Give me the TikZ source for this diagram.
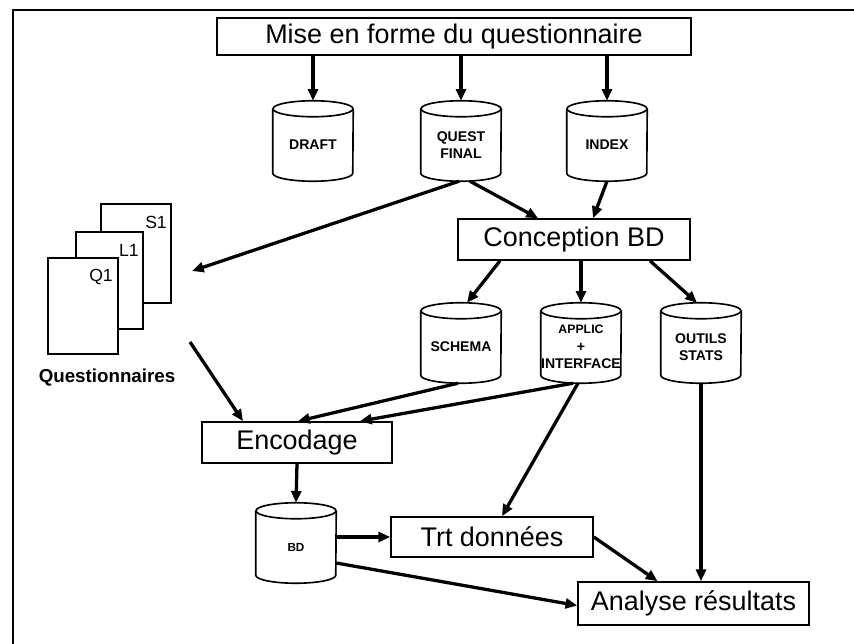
\documentclass[tikz,border=0pt]{standalone}
\usepackage{fontspec}
\setmainfont{Liberation Sans}
\usetikzlibrary{arrows.meta,calc}
\newcommand\dbcyl[4]{%
  \node[cyl] (#1) at (#2,#3) {};
  \node[cyltext] (#1-t) at ($(#1.center)+(0,4)$) {#4};
  \draw[line width=1.4pt] ($(#1.north)+(0,8)$) ellipse [x radius=1.2cm, y radius=0.24cm];
  \draw[line width=1.4pt] ($(#1.north west)+(0,8)$) -- ($(#1.south west)+(0,-8)$)
     arc[start angle=180,end angle=360,x radius=1.2cm,y radius=0.24cm] -- ($(#1.north east)+(0,8)$);
}
\begin{document}
\begin{tikzpicture}[x=0.03cm,y=-0.03cm,
  box/.style={draw,line width=1.4pt,inner sep=0pt,font=\fontsize{23}{27}\selectfont},
  cyl/.style={inner sep=0pt,minimum width=2.4cm,minimum height=2.4cm},
  cyltext/.style={inner sep=0pt,font=\bfseries\fontsize{12}{15}\selectfont,align=center},
  page/.style={draw,line width=1.3pt,fill=white},
  pagelabel/.style={inner sep=0pt,font=\fontsize{15}{17}\selectfont},
  arr/.style={line width=2.8pt,-{Triangle[length=10pt,width=8.5pt]}},
]
\useasboundingbox (0,0) rectangle (854,644);
\fill[white] (0,0) rectangle (854,644);
% frame
\draw[line width=1.5pt] (13,644) -- (13,10) -- (854,10);

% process boxes
\node[box,minimum width=14.22cm,minimum height=1.11cm] (top) at (454,36.5) {Mise en forme du questionnaire};
\node[box,minimum width=6.96cm,minimum height=1.23cm] (conc) at (574,239.5) {Conception BD};
\node[box,minimum width=5.7cm,minimum height=1.23cm] (enc) at (297,442.5) {Encodage};
\node[box,minimum width=6.06cm,minimum height=1.2cm] (trt) at (492,537) {Trt données};
\node[box,minimum width=6.93cm,minimum height=1.29cm] (ana) at (693.5,603.5) {Analyse résultats};

% data stores
\dbcyl{draft}{313}{141}{DRAFT}
\dbcyl{qf}{461}{141}{QUEST\\FINAL}
\dbcyl{index}{607}{141}{INDEX}
\dbcyl{schema}{461}{343}{SCHEMA}
\dbcyl{applic}{581}{343}{\fontsize{10.5}{13}\selectfont APPLIC\\+\\INTERFACE}
\dbcyl{outils}{701}{343}{OUTILS\\STATS}
\dbcyl{bd}{296}{543}{\fontsize{10}{12}\selectfont BD}

% questionnaires
\draw[page] (101,204) rectangle (171,303);
\node[pagelabel] (s1) at (156,222) {S1};
\draw[page] (76,232) rectangle (143,329);
\node[pagelabel] (l1) at (129,250) {L1};
\draw[page] (48,258) rectangle (118,354);
\node[pagelabel] (q1) at (101,277) {Q1};
\node[font=\bfseries\fontsize{16}{18}\selectfont] (qlab) at (107,378) {Questionnaires};
\coordinate (qin) at (192,271);
\coordinate (qout) at (190,342);

% connectors
\draw[arr] (draft.north |- top.south) -- (draft.north);
\draw[arr] (qf.north |- top.south) -- (qf.north);
\draw[arr] (index.north |- top.south) -- (index.north);
\draw[arr] ($(qf.south)+(9,0)$) -- ($(conc.north)+(-36,0)$);
\draw[arr] (index.south) -- ($(conc.north)+(19,0)$);
\draw[arr] ($(qf.south)+(-2,0)$) -- (qin);
\draw[arr] ($(conc.south)+(-74,0)$) -- ($(schema.north)+(6,0)$);
\draw[arr] (applic.north |- conc.south) -- (applic.north);
\draw[arr] ($(conc.south)+(76,0)$) -- ($(outils.north)+(-4,0)$);
\draw[arr] (qout) -- ($(enc.north)+(-54,0)$);
\draw[arr] ($(schema.south)+(-3,0)$) -- ($(enc.north)+(1,0)$);
\draw[arr] ($(applic.south)+(-8,0)$) -- ($(enc.north)+(63,0)$);
\draw[arr] ($(applic.south)+(-3,0)$) -- ($(trt.north)+(10,0)$);
\draw[arr] (enc.south) -- (bd.north);
\draw[arr,line width=3.8pt] (trt.west -| bd.east) -- (trt.west);
\draw[arr] ($(bd.east)+(0,20)$) -- ($(ana.west)+(0,2)$);
\draw[arr] (trt.east) -- ($(ana.north)+(-36,0)$);
\draw[arr] (outils.south) -- (ana.north -| outils.south);
\end{tikzpicture}
\end{document}
